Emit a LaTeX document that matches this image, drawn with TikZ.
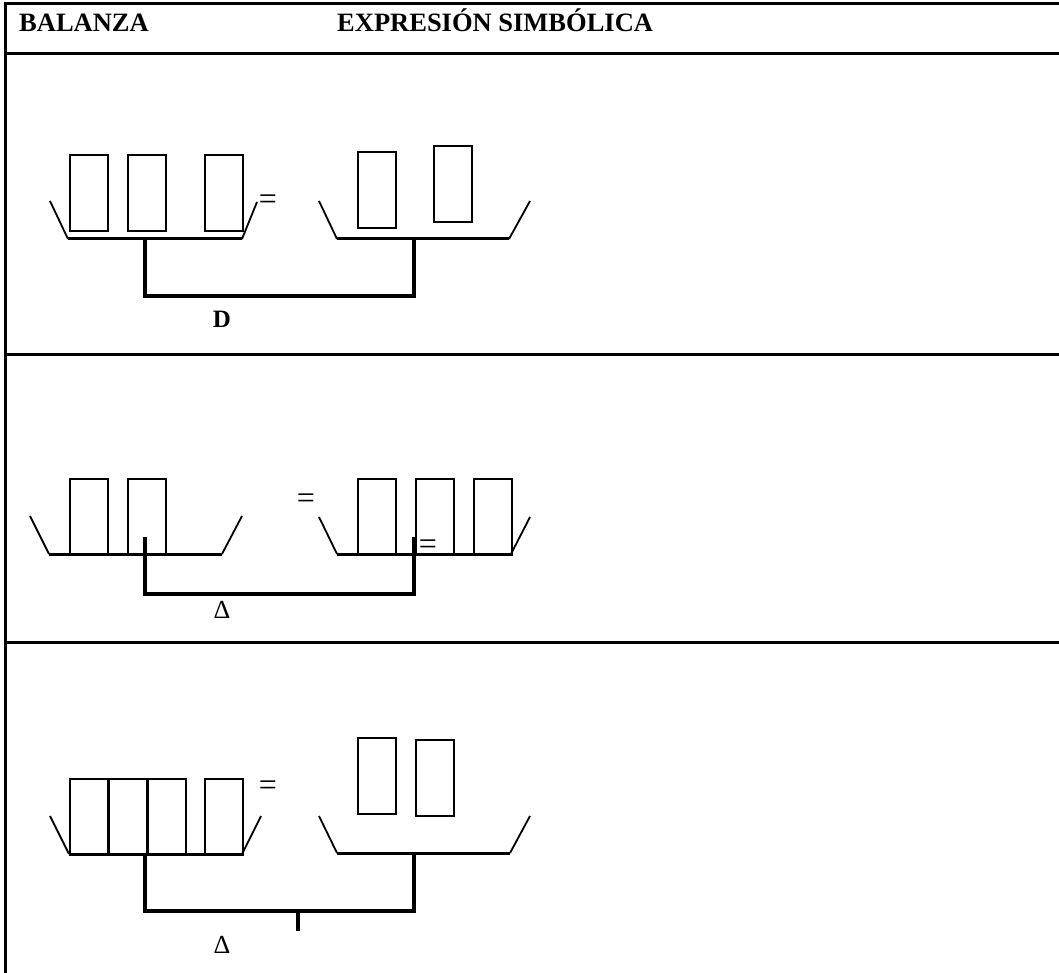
\documentclass[tikz,border=0pt]{standalone}
\usepackage{fontspec}
\setmainfont{Liberation Serif}

\begin{document}
\begin{tikzpicture}[x=1pt, y=-1pt,
    frame/.style={line width=3pt},
    rim/.style={line width=1.8pt},
    base/.style={line width=3pt},
    beam/.style={line width=3.2pt},
    weight/.style={draw, line width=2.8pt, minimum width=38pt, minimum height=76pt, inner sep=0pt},
    head/.style={font=\bfseries\fontsize{26.5}{27}\selectfont, inner sep=0pt, anchor=base west},
    eq/.style={font=\fontsize{32}{32}\selectfont, inner sep=0pt},
    lbl/.style={font=\fontsize{26}{26}\selectfont, inner sep=0pt}
    ]
    \useasboundingbox (0,0) rectangle (1059,973);

    % table lines
    \draw[frame] (5,973) -- (5,4) -- (1059,4);
    \draw[frame] (5,54) -- (1059,54);
    \draw[frame] (5,354) -- (1059,354);
    \draw[frame] (5,642) -- (1059,642);

    \node[head] (balanza) at (19,32) {BALANZA};
    \node[head] (expresion) at (337,32) {EXPRESIÓN SIMBÓLICA};

    % first balance
    \draw[rim] (50,201) -- (68,239);
    \draw[base] (68,239) -- (242,239);
    \draw[rim] (242,239) -- (257,202);
    \draw[rim] (319,201) -- (337,239);
    \draw[base] (337,239) -- (509,239);
    \draw[rim] (509,239) -- (530,201);
    \node[weight] (a1) at (89,193) {};
    \node[weight] (a2) at (147,193) {};
    \node[weight] (a3) at (224,193) {};
    \node[weight] (a4) at (377,190) {};
    \node[weight] (a5) at (453,184) {};
    \coordinate (al) at (145,239);
    \coordinate (ar) at (414,239);
    \draw[beam] (al) -- ++(0,57) -| (ar);
    \node[eq] (aeq) at (268,202) {=};
    \node[lbl, font=\bfseries\fontsize{25}{25}\selectfont] (alabel) at (222,319) {D};

    % second balance
    \draw[rim] (30,516) -- (49,554);
    \draw[base] (49,554) -- (222,554);
    \draw[rim] (222,554) -- (242,516);
    \draw[rim] (319,517) -- (337,554);
    \draw[base] (337,554) -- (511,554);
    \draw[rim] (511,554) -- (530,517);
    \node[weight] (b1) at (89,517) {};
    \node[weight] (b2) at (147,517) {};
    \node[weight] (b3) at (377,517) {};
    \node[weight] (b4) at (435,517) {};
    \node[weight] (b5) at (493,517) {};
    \coordinate (bl) at (145,537);
    \coordinate (br) at (414,537);
    \draw[beam] (bl) -- ++(0,57) -| (br);
    \node[eq] (beq) at (306,501) {=};
    \node[eq] (beq2) at (428,547) {=};
    \node[lbl] (blabel) at (222,610) {Δ};

    % third balance
    \draw[rim] (50,816) -- (69,854);
    \draw[base] (69,854) -- (242,854);
    \draw[rim] (242,854) -- (261,816);
    \draw[rim] (319,816) -- (337,853);
    \draw[base] (337,853) -- (510,853);
    \draw[rim] (510,853) -- (530,816);
    \node[weight] (c1) at (89,817) {};
    \node[weight] (c2) at (128,817) {};
    \node[weight] (c3) at (167,817) {};
    \node[weight] (c4) at (224,817) {};
    \node[weight] (c5) at (377,776) {};
    \node[weight] (c6) at (435,778) {};
    \coordinate (cl) at (145,854);
    \coordinate (cr) at (414,854);
    \coordinate (ctick) at (298,911);
    \draw[beam] (cl) -- ++(0,57) -| (cr);
    \draw[beam] (ctick) -- ++(0,20);
    \node[eq] (ceq) at (268,788) {=};
    \node[lbl] (clabel) at (222,945) {Δ};
\end{tikzpicture}
\end{document}
